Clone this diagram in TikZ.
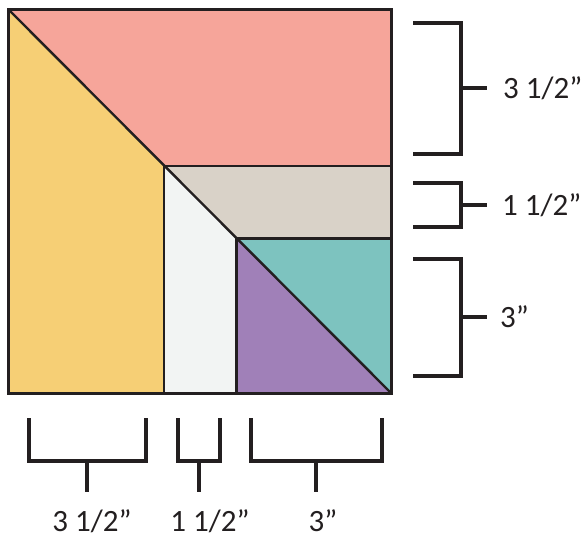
\documentclass[tikz,border=0pt]{standalone}
\usepackage{fontspec}
\setmainfont{Carlito}
\definecolor{pinkc}{HTML}{F6A59A}
\definecolor{yellowc}{HTML}{F6CF75}
\definecolor{grayc}{HTML}{D9D2C8}
\definecolor{whitec}{HTML}{F2F4F3}
\definecolor{tealc}{HTML}{7DC3BF}
\definecolor{purplec}{HTML}{A080B8}
\definecolor{inkc}{HTML}{231F20}
\begin{document}
\begin{tikzpicture}[x=1pt,y=-1pt,
  edge/.style={draw=inkc,line width=2.4pt,line join=miter},
  brace/.style={draw=inkc,line width=4.4pt,line join=miter},
  dimlabel/.style={font=\fontsize{31}{34}\selectfont,text=inkc,inner sep=0pt}]
\useasboundingbox (0,0) rectangle (587,540);
% corners and key points
\coordinate (TL) at (8.5,9.5);
\coordinate (TR) at (391.5,9.5);
\coordinate (BR) at (391.5,393.5);
\coordinate (BL) at (8.5,393.5);
\coordinate (P1) at (164,166);
\coordinate (P2) at (236.5,238.5);
\coordinate (G1) at (391.5,166);
\coordinate (G2) at (391.5,238.5);
\coordinate (W1) at (164,393.5);
\coordinate (W2) at (236.5,393.5);
% fills
\fill[pinkc] (TL) -- (TR) -- (G1) -- (P1) -- cycle;
\fill[yellowc] (TL) -- (P1) -- (W1) -- (BL) -- cycle;
\fill[grayc] (P1) -- (G1) -- (G2) -- (P2) -- cycle;
\fill[whitec] (P1) -- (P2) -- (W2) -- (W1) -- cycle;
\fill[tealc] (P2) -- (G2) -- (BR) -- cycle;
\fill[purplec] (P2) -- (BR) -- (W2) -- cycle;
% lines
\draw[edge] (TL) -- (TR) -- (BR) -- (BL) -- cycle;
\draw[edge] (TL) -- (BR);
\draw[edge] (P1) -- (G1);
\draw[edge] (P2) -- (G2);
\draw[edge] (P1) -- (W1);
\draw[edge] (P2) -- (W2);
% right brackets
\draw[brace] (413,23) -- (461,23) -- (461,154) -- (413,154);
\draw[brace] (461,88) -- (487,88);
\draw[brace] (413,183) -- (461,183) -- (461,227) -- (413,227);
\draw[brace] (461,205) -- (487,205);
\draw[brace] (413,259) -- (461,259) -- (461,376) -- (413,376);
\draw[brace] (461,317) -- (487,317);
\node[dimlabel,anchor=west] (r1) at (503,88) {3 1/2”};
\node[dimlabel,anchor=west] (r2) at (502,205) {1 1/2”};
\node[dimlabel,anchor=west] (r3) at (500,317) {3”};
% bottom brackets
\draw[brace] (29,418) -- (29,461) -- (146,461) -- (146,418);
\draw[brace] (87,461) -- (87,492);
\draw[brace] (178,418) -- (178,461) -- (220,461) -- (220,418);
\draw[brace] (199,461) -- (199,492);
\draw[brace] (251,418) -- (251,461) -- (382,461) -- (382,418);
\draw[brace] (316,461) -- (316,492);
\node[dimlabel,anchor=base] (b1) at (92,531) {3 1/2”};
\node[dimlabel,anchor=base] (b2) at (210,531) {1 1/2”};
\node[dimlabel,anchor=base] (b3) at (323,531) {3”};
\end{tikzpicture}
\end{document}
